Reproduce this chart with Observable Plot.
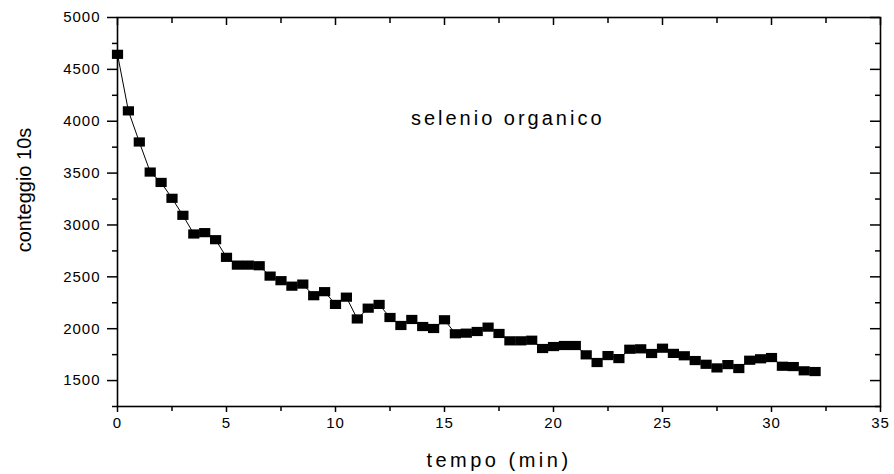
<!DOCTYPE html>
<html>
<head>
<meta charset="utf-8">
<script src="https://cdn.jsdelivr.net/npm/d3@7"></script>
<script src="https://cdn.jsdelivr.net/npm/@observablehq/plot@0.6"></script>
<style>
  html, body { margin: 0; padding: 0; background: #fff; }
  #chart svg { display: block; }
</style>
</head>
<body>
<div id="chart"></div>
<script>
// ---- data ----
const tempo = [
  0, 0.5, 1, 1.5, 2, 2.5, 3, 3.5, 4, 4.5,
  5, 5.5, 6, 6.5, 7, 7.5, 8, 8.5, 9, 9.5,
  10, 10.5, 11, 11.5, 12, 12.5, 13, 13.5, 14, 14.5,
  15, 15.5, 16, 16.5, 17, 17.5, 18, 18.5, 19, 19.5,
  20, 20.5, 21, 21.5, 22, 22.5, 23, 23.5, 24, 24.5,
  25, 25.5, 26, 26.5, 27, 27.5, 28, 28.5, 29, 29.5,
  30, 30.5, 31, 31.5, 32
];
const conteggio = [
  4645, 4100, 3800, 3510, 3410, 3257, 3093, 2913, 2926, 2858,
  2688, 2613, 2613, 2607, 2507, 2463, 2410, 2430, 2318, 2357,
  2234, 2304, 2094, 2198, 2234, 2108, 2031, 2089, 2021, 2002,
  2086, 1951, 1957, 1973, 2015, 1954, 1883, 1883, 1889, 1809,
  1828, 1838, 1838, 1748, 1674, 1741, 1712, 1802, 1806, 1761,
  1812, 1762, 1739, 1693, 1657, 1622, 1654, 1616, 1696, 1710,
  1722, 1638, 1635, 1594, 1587
];
const xTicks = [0, 5, 10, 15, 20, 25, 30, 35];
const xMinorTicks = [2.5, 7.5, 12.5, 17.5, 22.5, 27.5, 32.5];
const yTicks = [1500, 2000, 2500, 3000, 3500, 4000, 4500, 5000];
const yMinorTicks = [1250, 1750, 2250, 2750, 3250, 3750, 4250, 4750];
const xTitle = "tempo (min)";
const yTitle = "conteggio 10s";
const annotation = "selenio organico";

const data = tempo.map((t, i) => ({t, c: conteggio[i]}));

// filled rectangle marker (slightly wider than tall)
const rectSymbol = {
  draw(ctx) { ctx.rect(-5.6, -4.6, 11.2, 9.2); }
};

const axisStyle = {strokeWidth: 1.5, label: null};

const chart = Plot.plot({
  width: 894,
  height: 474,
  marginLeft: 117,
  marginRight: 14,
  marginTop: 17,
  marginBottom: 68,
  style: {fontFamily: "Arial, 'Liberation Sans', sans-serif", fontSize: "15px", color: "#000", background: "#fff"},
  x: {domain: [0, 35]},
  y: {domain: [1250, 5000]},
  marks: [
    // left axis (outward ticks + labels)
    Plot.axisY({...axisStyle, ticks: yTicks, tickSize: 10, tickPadding: 7, tickFormat: d => String(d)}),
    Plot.axisY({...axisStyle, ticks: yMinorTicks, tickSize: 5, fill: "none"}),
    // right axis (inward ticks)
    Plot.axisY({...axisStyle, anchor: "left", frameAnchor: "right", ticks: yTicks, tickSize: 10, fill: "none"}),
    Plot.axisY({...axisStyle, anchor: "left", frameAnchor: "right", ticks: yMinorTicks, tickSize: 5, fill: "none"}),
    // bottom axis (outward ticks + labels)
    Plot.axisX({...axisStyle, ticks: xTicks, tickSize: 6, tickPadding: 5, tickFormat: d => String(d)}),
    Plot.axisX({...axisStyle, ticks: xMinorTicks, tickSize: 5, fill: "none"}),
    // top axis (inward ticks)
    Plot.axisX({...axisStyle, anchor: "bottom", frameAnchor: "top", ticks: xTicks, tickSize: 8, fill: "none"}),
    Plot.axisX({...axisStyle, anchor: "bottom", frameAnchor: "top", ticks: xMinorTicks, tickSize: 6, fill: "none"}),
    Plot.frame({stroke: "#000", strokeWidth: 1.6}),
    // data
    Plot.line(data, {x: "t", y: "c", stroke: "#000", strokeWidth: 1}),
    Plot.dot(data, {x: "t", y: "c", symbol: rectSymbol, fill: "#000", stroke: "none", r: 5}),
    // titles
    Plot.text([xTitle], {frameAnchor: "bottom", dy: 60, lineAnchor: "bottom", textAnchor: "middle", fontSize: 20, fill: "#000"}),
    Plot.text([yTitle], {frameAnchor: "left", dx: -93, dy: -22, rotate: -90, lineAnchor: "middle", textAnchor: "middle", fontSize: 20, fill: "#000"}),
    Plot.text([annotation], {x: 17.9, y: 3962, lineAnchor: "bottom", textAnchor: "middle", fontSize: 20, fill: "#000"})
  ]
});

document.getElementById("chart").appendChild(chart);

// letter spacing tweaks to mimic the original typography
const svg = d3.select(chart);
svg.selectAll('[aria-label="y-axis tick label"] text, [aria-label="x-axis tick label"] text').style("letter-spacing", "1px");
svg.selectAll("text").filter(function() { return this.textContent === xTitle; }).style("letter-spacing", "3.5px");
svg.selectAll("text").filter(function() { return this.textContent === annotation; }).style("letter-spacing", "3px");
</script>
</body>
</html>
